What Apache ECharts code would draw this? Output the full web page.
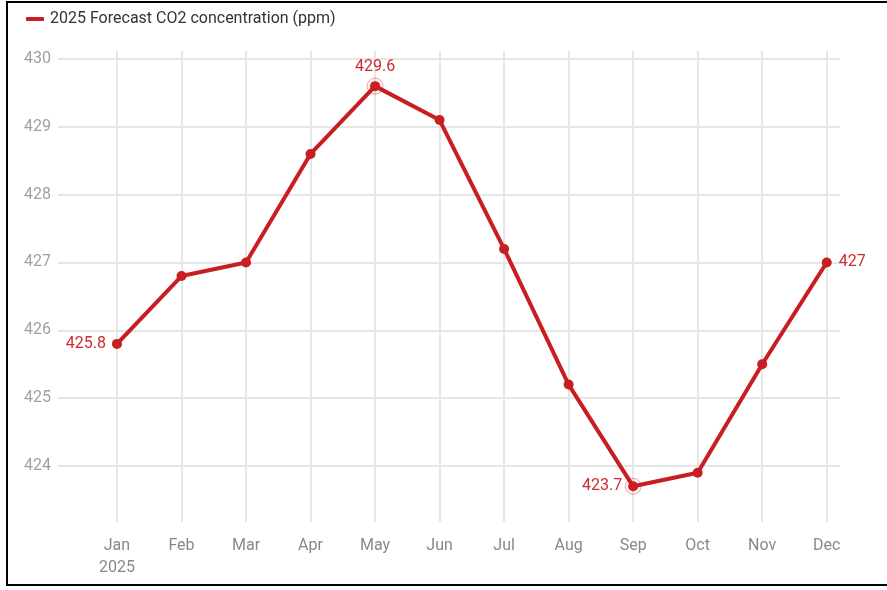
<!DOCTYPE html>
<html>
<head>
<meta charset="utf-8">
<script src="https://cdn.jsdelivr.net/npm/echarts@6/dist/echarts.min.js"></script>
<style>
  html, body { margin: 0; padding: 0; background: #fff; }
  #chart { position: absolute; left: 0; top: 0; width: 887px; height: 590px; }
  #frame { position: absolute; left: 6px; top: 1px; width: 900px; height: 581px; border: 2px solid #000; pointer-events: none; box-sizing: content-box; }
</style>
</head>
<body>
<div id="chart"></div>
<div id="frame"></div>
<script>
const months = ['Jan', 'Feb', 'Mar', 'Apr', 'May', 'Jun', 'Jul', 'Aug', 'Sep', 'Oct', 'Nov', 'Dec'];
const co2 = [425.8, 426.8, 427.0, 428.6, 429.6, 429.1, 427.2, 425.2, 423.7, 423.9, 425.5, 427.0];
const yTicks = [424, 425, 426, 427, 428, 429, 430];
const seriesName = '2025 Forecast CO2 concentration (ppm)';
const yearLabel = '2025';

const lineColor = '#c81e22';
const labelColor = '#d12a2e';

const maxIdx = co2.indexOf(Math.max(...co2));
const minIdx = co2.indexOf(Math.min(...co2));
const lastIdx = co2.length - 1;

const labelPos = {};
labelPos[0] = 'left';
labelPos[maxIdx] = 'top';
labelPos[minIdx] = 'left';
labelPos[lastIdx] = 'right';

const lineData = co2.map((v, i) => {
  const item = { value: [i, v] };
  if (labelPos[i]) {
    item.label = {
      show: true,
      position: labelPos[i],
      distance: labelPos[i] === 'top' ? 6 : (labelPos[i] === 'right' ? 7 : 6),
      formatter: String(v),
      color: labelColor,
      fontSize: 16,
      fontFamily: 'Roboto'
    };
  }
  return item;
});

const haloData = [maxIdx, minIdx].map(i => [i, co2[i]]);

const chart = echarts.init(document.getElementById('chart'), null, { renderer: 'canvas' });
chart.setOption({
  animation: false,
  backgroundColor: '#fff',
  legend: {
    data: [{ name: seriesName, icon: 'roundRect' }],
    left: 21,
    top: 6,
    itemWidth: 18,
    itemHeight: 4,
    textStyle: { color: '#333', fontSize: 16, fontFamily: 'Roboto', padding: [0, 0, 0, 1] }
  },
  grid: { left: 58, right: 47, top: 51, bottom: 68, containLabel: false },
  xAxis: {
    type: 'value',
    min: -0.914,
    max: 11.206,
    axisLine: { show: false },
    axisTick: { show: false, customValues: months.map((m, i) => i) },
    axisLabel: {
      customValues: months.map((m, i) => i),
      formatter: v => (v === 0 ? months[0] + '\n' + yearLabel : months[Math.round(v)]),
      color: '#888',
      fontSize: 16,
      fontFamily: 'Roboto',
      lineHeight: 22,
      margin: 13
    },
    splitLine: { show: true, lineStyle: { color: '#e6e6e6', width: 2 } }
  },
  yAxis: {
    type: 'value',
    min: 423.174,
    max: 430.118,
    axisLine: { show: false },
    axisTick: { show: false, customValues: yTicks },
    axisLabel: {
      customValues: yTicks,
      color: '#a0a0a0',
      fontSize: 16,
      fontFamily: 'Roboto',
      margin: 7
    },
    splitLine: { show: true, lineStyle: { color: '#e6e6e6', width: 2 } }
  },
  series: [
    {
      name: seriesName,
      type: 'line',
      data: lineData,
      symbol: 'circle',
      symbolSize: 10,
      showAllSymbol: true,
      itemStyle: { color: lineColor },
      lineStyle: { color: lineColor, width: 4 },
      z: 3
    },
    {
      name: 'halo',
      type: 'scatter',
      data: haloData,
      symbol: 'circle',
      symbolSize: 16,
      itemStyle: { color: 'rgba(200,30,34,0.08)', borderColor: 'rgba(200,30,34,0.45)', borderWidth: 1 },
      silent: true,
      z: 2
    }
  ]
});
</script>
</body>
</html>
